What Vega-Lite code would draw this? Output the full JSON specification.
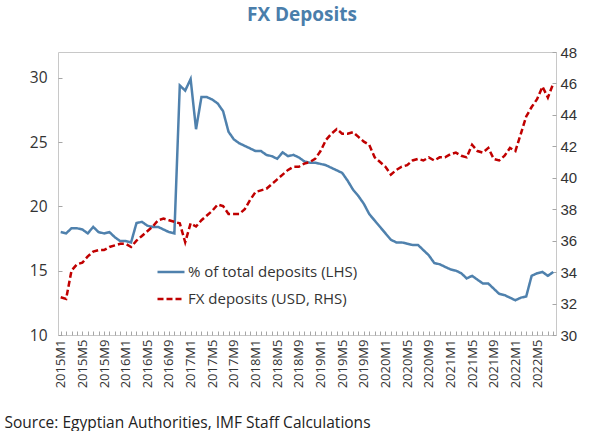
{
  "$schema": "https://vega.github.io/schema/vega-lite/v6.json",
  "autosize": "none",
  "width": 498,
  "height": 283,
  "padding": {"left": 58, "top": 52, "right": 36, "bottom": 96},
  "background": "white",
  "title": {"text": "FX Deposits", "font": "Open Sans", "fontSize": 19, "fontWeight": "bold", "color": "#4a7eab", "anchor": "middle", "offset": 20, "dx": -5},
  "config": {
    "view": {"stroke": "#c8c8c8", "strokeWidth": 1},
    "font": "Open Sans"
  },
  "data": {"values": [
    {"m":"2015M1","lhs":18.0,"rhs":32.4},{"m":"2015M2","lhs":17.9,"rhs":32.3},{"m":"2015M3","lhs":18.3,"rhs":34.1},{"m":"2015M4","lhs":18.3,"rhs":34.5},{"m":"2015M5","lhs":18.2,"rhs":34.6},{"m":"2015M6","lhs":17.9,"rhs":35.0},{"m":"2015M7","lhs":18.4,"rhs":35.3},{"m":"2015M8","lhs":18.0,"rhs":35.4},{"m":"2015M9","lhs":17.9,"rhs":35.4},{"m":"2015M10","lhs":18.0,"rhs":35.6},{"m":"2015M11","lhs":17.6,"rhs":35.7},{"m":"2015M12","lhs":17.3,"rhs":35.8},
    {"m":"2016M1","lhs":17.3,"rhs":35.8},{"m":"2016M2","lhs":17.2,"rhs":35.6},{"m":"2016M3","lhs":18.7,"rhs":36.0},{"m":"2016M4","lhs":18.8,"rhs":36.3},{"m":"2016M5","lhs":18.5,"rhs":36.6},{"m":"2016M6","lhs":18.4,"rhs":36.9},{"m":"2016M7","lhs":18.4,"rhs":37.3},{"m":"2016M8","lhs":18.2,"rhs":37.4},{"m":"2016M9","lhs":18.0,"rhs":37.3},{"m":"2016M10","lhs":17.9,"rhs":37.2},{"m":"2016M11","lhs":29.4,"rhs":37.1},{"m":"2016M12","lhs":29.0,"rhs":35.9},
    {"m":"2017M1","lhs":29.9,"rhs":37.1},{"m":"2017M2","lhs":26.0,"rhs":36.9},{"m":"2017M3","lhs":28.5,"rhs":37.3},{"m":"2017M4","lhs":28.5,"rhs":37.6},{"m":"2017M5","lhs":28.3,"rhs":37.9},{"m":"2017M6","lhs":28.0,"rhs":38.3},{"m":"2017M7","lhs":27.4,"rhs":38.2},{"m":"2017M8","lhs":25.8,"rhs":37.7},{"m":"2017M9","lhs":25.2,"rhs":37.7},{"m":"2017M10","lhs":24.9,"rhs":37.7},{"m":"2017M11","lhs":24.7,"rhs":38.0},{"m":"2017M12","lhs":24.5,"rhs":38.6},
    {"m":"2018M1","lhs":24.3,"rhs":39.1},{"m":"2018M2","lhs":24.3,"rhs":39.2},{"m":"2018M3","lhs":24.0,"rhs":39.3},{"m":"2018M4","lhs":23.9,"rhs":39.6},{"m":"2018M5","lhs":23.7,"rhs":39.9},{"m":"2018M6","lhs":24.2,"rhs":40.2},{"m":"2018M7","lhs":23.9,"rhs":40.5},{"m":"2018M8","lhs":24.0,"rhs":40.7},{"m":"2018M9","lhs":23.8,"rhs":40.7},{"m":"2018M10","lhs":23.5,"rhs":40.9},{"m":"2018M11","lhs":23.4,"rhs":41.0},{"m":"2018M12","lhs":23.4,"rhs":41.2},
    {"m":"2019M1","lhs":23.3,"rhs":41.7},{"m":"2019M2","lhs":23.2,"rhs":42.4},{"m":"2019M3","lhs":23.0,"rhs":42.8},{"m":"2019M4","lhs":22.8,"rhs":43.1},{"m":"2019M5","lhs":22.6,"rhs":42.8},{"m":"2019M6","lhs":22.0,"rhs":42.8},{"m":"2019M7","lhs":21.3,"rhs":42.9},{"m":"2019M8","lhs":20.8,"rhs":42.6},{"m":"2019M9","lhs":20.2,"rhs":42.3},{"m":"2019M10","lhs":19.4,"rhs":42.1},{"m":"2019M11","lhs":18.9,"rhs":41.3},{"m":"2019M12","lhs":18.4,"rhs":41.0},
    {"m":"2020M1","lhs":17.9,"rhs":40.7},{"m":"2020M2","lhs":17.4,"rhs":40.2},{"m":"2020M3","lhs":17.2,"rhs":40.5},{"m":"2020M4","lhs":17.2,"rhs":40.7},{"m":"2020M5","lhs":17.1,"rhs":40.8},{"m":"2020M6","lhs":17.0,"rhs":41.1},{"m":"2020M7","lhs":17.0,"rhs":41.2},{"m":"2020M8","lhs":16.6,"rhs":41.1},{"m":"2020M9","lhs":16.2,"rhs":41.3},{"m":"2020M10","lhs":15.6,"rhs":41.1},{"m":"2020M11","lhs":15.5,"rhs":41.3},{"m":"2020M12","lhs":15.3,"rhs":41.3},
    {"m":"2021M1","lhs":15.1,"rhs":41.5},{"m":"2021M2","lhs":15.0,"rhs":41.6},{"m":"2021M3","lhs":14.8,"rhs":41.4},{"m":"2021M4","lhs":14.4,"rhs":41.3},{"m":"2021M5","lhs":14.6,"rhs":42.1},{"m":"2021M6","lhs":14.3,"rhs":41.7},{"m":"2021M7","lhs":14.0,"rhs":41.6},{"m":"2021M8","lhs":14.0,"rhs":41.9},{"m":"2021M9","lhs":13.6,"rhs":41.2},{"m":"2021M10","lhs":13.2,"rhs":41.1},{"m":"2021M11","lhs":13.1,"rhs":41.4},{"m":"2021M12","lhs":12.9,"rhs":41.9},
    {"m":"2022M1","lhs":12.7,"rhs":41.7},{"m":"2022M2","lhs":12.9,"rhs":42.8},{"m":"2022M3","lhs":13.0,"rhs":43.9},{"m":"2022M4","lhs":14.6,"rhs":44.5},{"m":"2022M5","lhs":14.8,"rhs":45.0},{"m":"2022M6","lhs":14.9,"rhs":45.8},{"m":"2022M7","lhs":14.6,"rhs":45.1},{"m":"2022M8","lhs":14.9,"rhs":46.0}
  ]},
  "transform": [{"fold": ["lhs", "rhs"], "as": ["key", "value"]}],
  "encoding": {
    "x": {
      "field": "m", "type": "ordinal", "sort": null,
      "axis": {
        "title": "Source: Egyptian Authorities, IMF Staff Calculations",
        "titleFont": "Open Sans", "titleFontSize": 15.5, "titleFontWeight": "normal", "titleColor": "#222",
        "titleAnchor": "start", "titleAlign": "left", "titleX": -54, "titleY": 92, "titleBaseline": "alphabetic",
        "labelExpr": "test(/M[159]$/, datum.value) ? datum.value : ''",
        "labelAngle": -90, "labelAlign": "right", "labelBaseline": "middle",
        "labelFont": "Open Sans", "labelFontSize": 13, "labelColor": "#333", "labelPadding": 8,
        "domain": false, "ticks": true, "tickSize": -4, "tickColor": "#a6a6a6",
        "labelOverlap": false
      }
    },
    "color": {
      "field": "key", "type": "nominal",
      "scale": {"domain": ["lhs", "rhs"], "range": ["#4f81ad", "#c00000"]},
      "legend": {"title": null, "orient": "none", "legendX": 98, "legendY": 205,
        "labelExpr": "datum.value == 'lhs' ? '% of total deposits (LHS)' : 'FX deposits (USD, RHS)'",
        "symbolType": "stroke", "symbolSize": 729, "symbolStrokeWidth": 2.5, "labelLimit": 400,
        "labelFont": "Open Sans", "labelFontSize": 15, "labelColor": "#333", "labelOffset": 2, "rowPadding": 4, "padding": 0}
    },
    "strokeDash": {
      "field": "key", "type": "nominal",
      "scale": {"domain": ["lhs", "rhs"], "range": [[1, 0], [6, 3]]},
      "legend": {"title": null, "orient": "none", "legendX": 98, "legendY": 205,
        "labelExpr": "datum.value == 'lhs' ? '% of total deposits (LHS)' : 'FX deposits (USD, RHS)'",
        "symbolType": "stroke", "symbolSize": 729, "symbolStrokeWidth": 2.5, "labelLimit": 400,
        "labelFont": "Open Sans", "labelFontSize": 15, "labelColor": "#333", "labelOffset": 2, "rowPadding": 4, "padding": 0}
    }
  },
  "layer": [
    {
      "transform": [{"filter": "datum.key == 'lhs'"}],
      "mark": {"type": "line", "strokeWidth": 2.5},
      "encoding": {
        "y": {"field": "value", "type": "quantitative", "scale": {"domain": [10, 32], "nice": false, "zero": false},
          "axis": {"orient": "left", "title": null, "values": [10, 15, 20, 25, 30], "grid": false, "domain": false,
            "ticks": true, "tickSize": -4, "tickColor": "#a6a6a6",
            "labelFont": "Open Sans", "labelFontSize": 15.5, "labelColor": "#333", "labelPadding": 15}}
      }
    },
    {
      "transform": [{"filter": "datum.key == 'rhs'"}],
      "mark": {"type": "line", "strokeWidth": 2.5},
      "encoding": {
        "y": {"field": "value", "type": "quantitative", "scale": {"domain": [30, 48], "nice": false, "zero": false},
          "axis": {"orient": "right", "title": null, "values": [30, 32, 34, 36, 38, 40, 42, 44, 46, 48], "grid": false, "domain": false,
            "ticks": true, "tickSize": -4, "tickColor": "#a6a6a6",
            "labelFont": "Liberation Sans", "labelFontSize": 15, "labelColor": "#333", "labelPadding": 8}}
      }
    }
  ],
  "resolve": {"scale": {"y": "independent"}}
}
